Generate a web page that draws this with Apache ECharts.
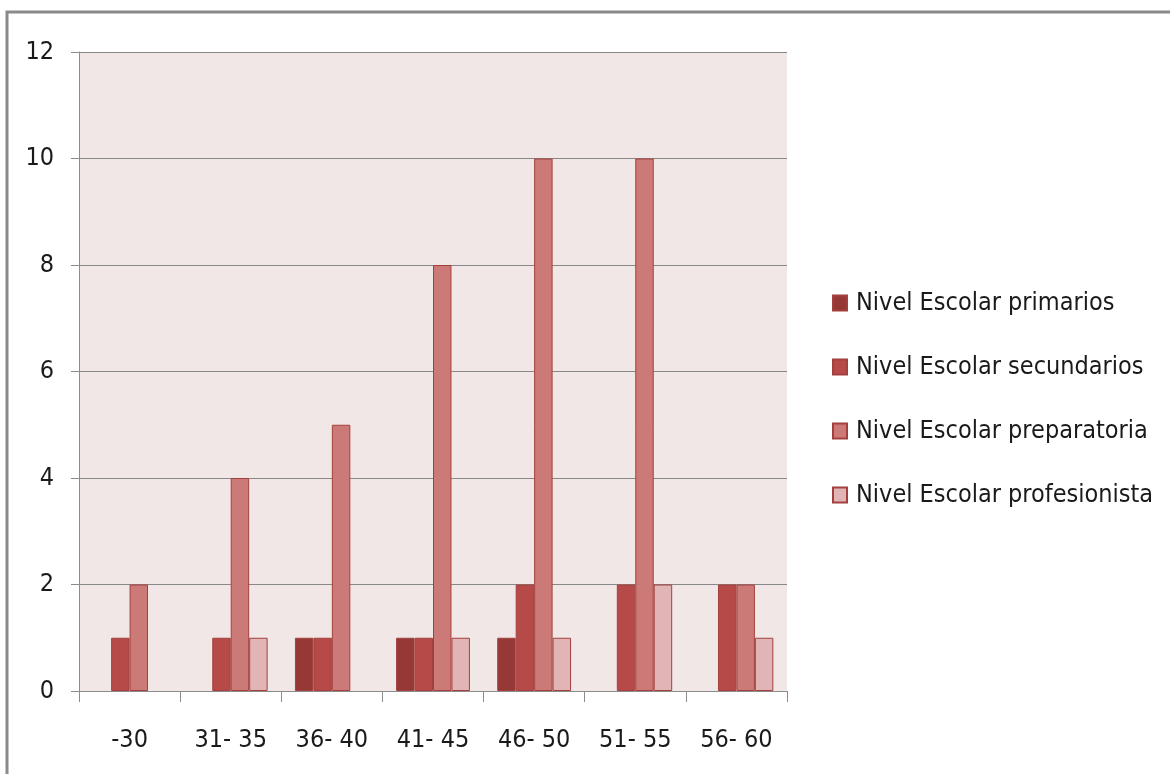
<!DOCTYPE html>
<html>
<head>
<meta charset="utf-8">
<title>Nivel Escolar por edad</title>
<script src="https://cdn.jsdelivr.net/npm/echarts@6/dist/echarts.min.js"></script>
<style>
  html, body { margin: 0; padding: 0; background: #ffffff; }
  #chart { width: 1170px; height: 774px; }
</style>
</head>
<body>
<div id="chart"></div>
<script>
// Age groups on the horizontal axis
const categories = ['-30', '31- 35', '36- 40', '41- 45', '46- 50', '51- 55', '56- 60'];

// Count of people per schooling level in each age group
const primarios     = [0, 0, 1, 1, 1, 0, 0];
const secundarios   = [1, 1, 1, 1, 2, 2, 2];
const preparatoria  = [2, 4, 5, 8, 10, 10, 2];
const profesionista = [0, 1, 0, 1, 1, 2, 1];

const seriesNames = [
  'Nivel Escolar primarios',
  'Nivel Escolar secundarios',
  'Nivel Escolar preparatoria',
  'Nivel Escolar profesionista'
];
const seriesValues = [primarios, secundarios, preparatoria, profesionista];
const seriesColors = ['#953836', '#b54a48', '#cc7a78', '#e1b5b5'];

const FONT = '"Liberation Sans Narrow", "DejaVu Sans Condensed", "Liberation Sans", sans-serif';
const FONT_SIZE = 25;
const axisGray = '#8c8c8c';

const chart = echarts.init(document.getElementById('chart'));

chart.setOption({
  backgroundColor: '#ffffff',
  animation: false,
  textStyle: { fontFamily: FONT, color: '#1a1a1a' },
  graphic: [{
    type: 'rect',
    shape: { x: 7, y: 12, width: 2000, height: 2000 },
    style: { fill: 'none', stroke: '#8a8a8a', lineWidth: 3 },
    silent: true
  }],
  grid: {
    left: 79, right: 383, top: 52, bottom: 83,
    show: true, backgroundColor: '#f2e7e7', borderWidth: 0
  },
  legend: {
    orient: 'vertical',
    left: 827,
    top: 284,
    itemWidth: 14,
    itemHeight: 15,
    itemGap: 36,
    icon: 'rect',
    data: seriesNames,
    textStyle: { fontFamily: FONT, fontSize: FONT_SIZE, color: '#1a1a1a', padding: [0, 0, 0, 4], lineHeight: 28 }
  },
  xAxis: {
    type: 'category',
    data: categories,
    axisLine: { lineStyle: { color: axisGray, width: 1 } },
    axisTick: { show: true, length: 11, lineStyle: { color: axisGray } },
    axisLabel: { interval: 0, fontFamily: FONT, fontSize: FONT_SIZE, color: '#1a1a1a', margin: 37 }
  },
  yAxis: {
    type: 'value',
    min: 0, max: 12, interval: 2,
    axisLine: { show: true, lineStyle: { color: axisGray, width: 1 } },
    axisTick: { show: true, length: 8, lineStyle: { color: axisGray } },
    axisLabel: { fontFamily: FONT, fontSize: FONT_SIZE, color: '#1a1a1a', margin: 25 },
    splitLine: { show: true, lineStyle: { color: '#888888', width: 1 } }
  },
  series: seriesNames.map((name, i) => ({
    name: name,
    type: 'bar',
    barGap: '0%',
    barCategoryGap: '27%',
    // empty groups keep their slot but draw nothing
    data: seriesValues[i].map(v => (v === 0 ? '-' : v)),
    itemStyle: {
      color: seriesColors[i],
      borderColor: '#a3403e',
      borderWidth: 1
    }
  }))
});
</script>
</body>
</html>
